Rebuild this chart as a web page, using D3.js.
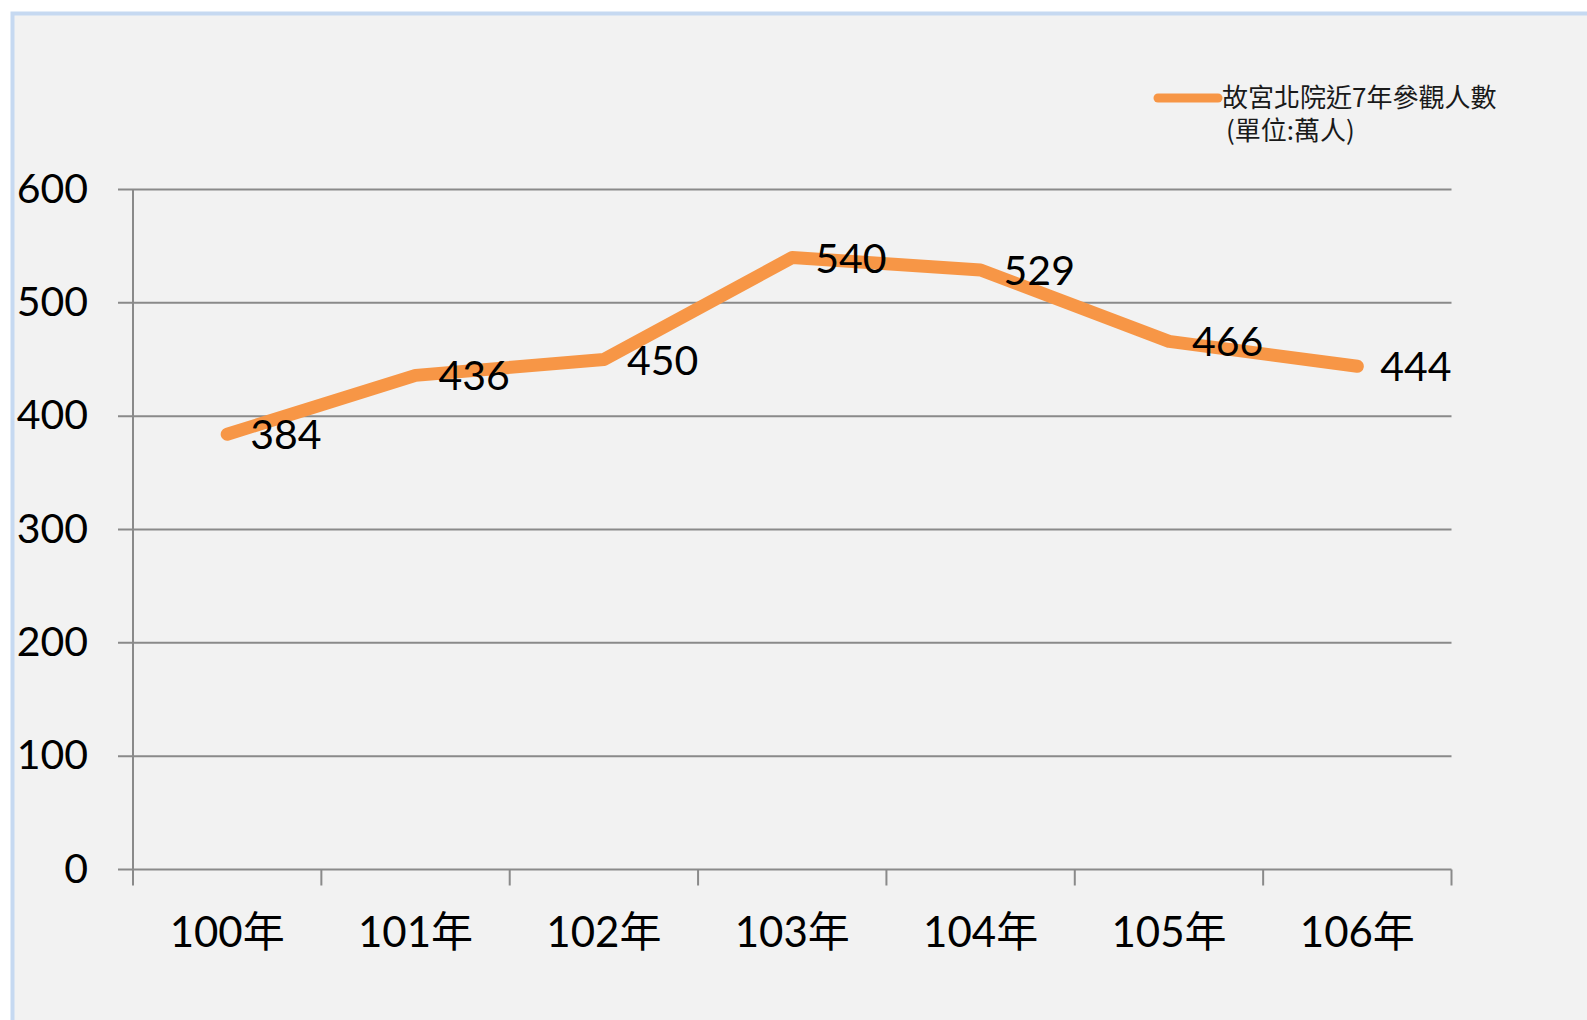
<!DOCTYPE html>
<html lang="zh-Hant">
  <head>
    <meta charset="utf-8">
    <script src="https://d3js.org/d3.v7.min.js"></script>
    <title>故宮北院近7年參觀人數</title>
  </head>
  <body style="margin:0; background:#ffffff;">
  <script type="text/javascript">

    // chart data
    var years = ["100年", "101年", "102年", "103年", "104年", "105年", "106年"];
    var visitors = [384, 436, 450, 540, 529, 466, 444];
    var yTicks = [0, 100, 200, 300, 400, 500, 600];
    var seriesName = ["故宮北院近7年參觀人數", "(單位:萬人)"];

    var width = 1587, height = 1020;
    var orange = "#f79646";
    var gridColor = "#8a8a8a";
    var fontMain = "Lato, 'Noto Sans CJK TC', sans-serif";

    var svg = d3.select("body").append("svg")
      .attr("width", width)
      .attr("height", height)
      .style("display", "block");

    // chart frame, runs off the right and bottom edge
    svg.append("rect")
      .attr("x", 12.5)
      .attr("y", 13.5)
      .attr("width", width + 20)
      .attr("height", height + 20)
      .attr("fill", "#f2f2f2")
      .attr("stroke", "#c6d9f1")
      .attr("stroke-width", 4);

    // scales
    var x = d3.scaleBand()
      .domain(years)
      .range([133, 1451.5])
      .padding(0);

    var y = d3.scaleLinear()
      .domain([0, 600])
      .range([869.5, 189.5]);

    // horizontal gridlines
    svg.append("g")
      .selectAll("line")
      .data(yTicks)
      .enter().append("line")
        .attr("x1", 118)
        .attr("x2", x.range()[1])
        .attr("y1", function(d) { return y(d); })
        .attr("y2", function(d) { return y(d); })
        .attr("stroke", gridColor)
        .attr("stroke-width", 2);

    // y axis line
    svg.append("line")
      .attr("x1", x.range()[0]).attr("x2", x.range()[0])
      .attr("y1", y(600)).attr("y2", y(0) + 16)
      .attr("stroke", gridColor)
      .attr("stroke-width", 2);

    // category ticks on boundaries
    var bounds = years.map(function(d) { return x(d) + x.bandwidth(); });
    svg.append("g")
      .selectAll("line")
      .data(bounds)
      .enter().append("line")
        .attr("x1", function(d) { return d; })
        .attr("x2", function(d) { return d; })
        .attr("y1", y(0))
        .attr("y2", y(0) + 16)
        .attr("stroke", gridColor)
        .attr("stroke-width", 2);

    // y tick labels
    svg.append("g")
      .selectAll("text")
      .data(yTicks)
      .enter().append("text")
        .attr("x", 88)
        .attr("y", function(d) { return y(d) + 13; })
        .attr("text-anchor", "end")
        .style("font-family", fontMain)
        .style("font-size", "41px")
        .style("fill", "#000")
        .text(function(d) { return d; });

    // x labels
    svg.append("g")
      .selectAll("text")
      .data(years)
      .enter().append("text")
        .attr("x", function(d) { return x(d) + x.bandwidth() / 2; })
        .attr("y", 947)
        .attr("text-anchor", "middle")
        .style("font-family", fontMain)
        .style("font-size", "42px")
        .style("fill", "#000")
        .text(function(d) { return d; });

    // the line
    var line = d3.line()
      .x(function(d, i) { return x(years[i]) + x.bandwidth() / 2; })
      .y(function(d) { return y(d); });

    svg.append("path")
      .datum(visitors)
      .attr("d", line)
      .attr("fill", "none")
      .attr("stroke", orange)
      .attr("stroke-width", 13)
      .attr("stroke-linecap", "round")
      .attr("stroke-linejoin", "round");

    // data labels, right of point
    svg.append("g")
      .selectAll("text")
      .data(visitors)
      .enter().append("text")
        .attr("x", function(d, i) { return x(years[i]) + x.bandwidth() / 2 + 23; })
        .attr("y", function(d) { return y(d) + 15; })
        .attr("text-anchor", "start")
        .style("font-family", fontMain)
        .style("font-size", "41px")
        .style("fill", "#000")
        .text(function(d) { return d; });

    // legend
    svg.append("line")
      .attr("x1", 1158).attr("x2", 1218)
      .attr("y1", 98).attr("y2", 98)
      .attr("stroke", orange)
      .attr("stroke-width", 9)
      .attr("stroke-linecap", "round");

    svg.append("text")
      .attr("x", 1222)
      .attr("y", 107)
      .style("font-family", "'Noto Sans CJK TC', sans-serif")
      .style("font-size", "26px")
      .style("fill", "#1a1a1a")
      .text(seriesName[0]);

    svg.append("text")
      .attr("x", 1226)
      .attr("y", 140)
      .style("font-family", "'Noto Sans CJK TC', sans-serif")
      .style("font-size", "26px")
      .style("fill", "#1a1a1a")
      .text(seriesName[1]);

  </script>
  </body>
</html>
